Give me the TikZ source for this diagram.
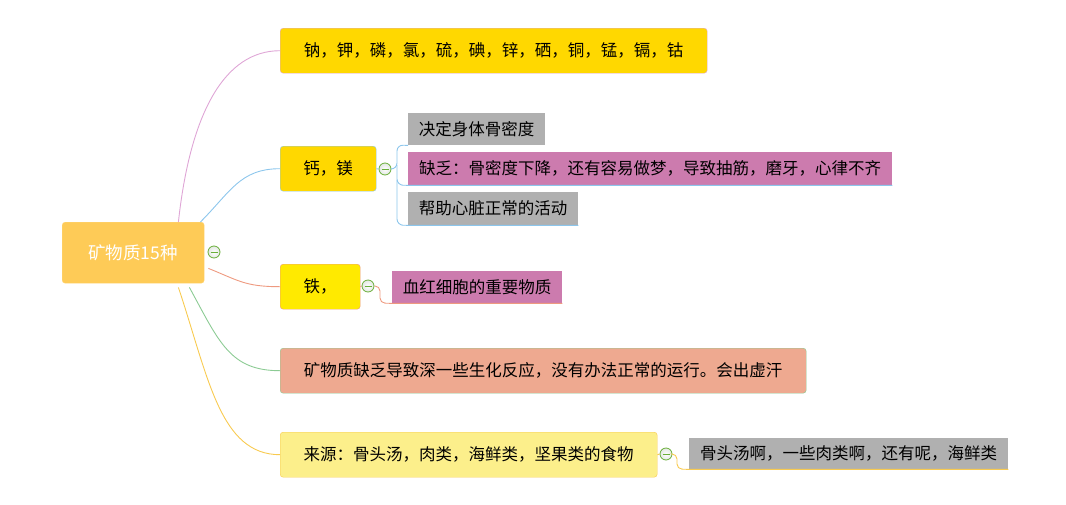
\documentclass[tikz,border=0pt]{standalone}
\usepackage{fontspec}
\newfontfamily\cjk{Noto Sans CJK SC}
\definecolor{rootfill}{HTML}{FECB57}
\definecolor{gold}{HTML}{FFD800}
\definecolor{brightyel}{HTML}{FFEA00}
\definecolor{salmon}{HTML}{EEA990}
\definecolor{lightyel}{HTML}{FCEF8B}
\definecolor{greyc}{HTML}{B0B0B0}
\definecolor{pinkc}{HTML}{CC7BAE}
\definecolor{lpink}{HTML}{DFA6D6}
\definecolor{lblue}{HTML}{8CC6EC}
\definecolor{lred}{HTML}{EE9A80}
\definecolor{lgreen}{HTML}{8CCB94}
\definecolor{lorange}{HTML}{F8CA50}
\definecolor{cgreen}{HTML}{6AAF3A}
\tikzset{
  box/.style={rounded corners=3pt, inner sep=0pt, font=\cjk\fontsize{16.5}{19}\selectfont, text=black},
  child/.style={inner sep=0pt, font=\cjk\fontsize{16.5}{19}\selectfont, text=black},
  conn/.style={line width=0.9pt},
  collapse/.style={circle, draw=cgreen, line width=0.8pt, inner color=white, outer color=green!10!gray!20, minimum size=12pt, inner sep=0pt,
    path picture={\draw[cgreen, line width=1pt] ([xshift=-3.5pt]path picture bounding box.center) -- ([xshift=3.5pt]path picture bounding box.center);}},
}
\begin{document}
\begin{tikzpicture}[x=1pt,y=-1pt]
\useasboundingbox (0,0) rectangle (1066,504);
% root
\node[box, fill=rootfill, draw=rootfill!80!white, minimum width=142pt, minimum height=61pt, anchor=north west, text=white, font=\cjk\fontsize{17.5}{20}\selectfont] (root) at (62,222) {矿物质15种};
\node[collapse] (rc) at (214,252) {};
% branch 1
\node[box, fill=gold, draw=lpink, minimum width=427pt, minimum height=45pt, anchor=north west] (b1) at (280,28) {钠，钾，磷，氯，硫，碘，锌，硒，铜，锰，镉，钴};
% branch 2
\node[box, fill=gold, draw=lblue, minimum width=96pt, minimum height=45pt, anchor=north west] (b2) at (280,146) {钙，镁};
\node[collapse] (c2) at (385,169) {};
\node[child, fill=greyc, minimum width=137pt, minimum height=32pt, anchor=north west] (b21) at (408,113) {决定身体骨密度};
\node[child, fill=pinkc, minimum width=484pt, minimum height=33pt, anchor=north west] (b22) at (408,152) {缺乏：骨密度下降，还有容易做梦，导致抽筋，磨牙，心律不齐};
\node[child, fill=greyc, minimum width=170pt, minimum height=33pt, anchor=north west] (b23) at (408,192) {帮助心脏正常的活动};
% branch 3
\node[box, fill=brightyel, draw=lred, minimum width=80pt, minimum height=45pt, anchor=north west] (b3) at (280,264) {铁，};
\node[collapse] (c3) at (368,286) {};
\node[child, fill=pinkc, minimum width=170pt, minimum height=32pt, anchor=north west] (b31) at (392,271) {血红细胞的重要物质};
% branch 4
\node[box, fill=salmon, draw=lgreen, minimum width=526pt, minimum height=45pt, anchor=north west] (b4) at (280,348) {矿物质缺乏导致深一些生化反应，没有办法正常的运行。会出虚汗};
% branch 5
\node[box, fill=lightyel, draw=lorange, minimum width=377pt, minimum height=45pt, anchor=north west] (b5) at (280,432) {来源：骨头汤，肉类，海鲜类，坚果类的食物};
\node[collapse] (c5) at (666,454) {};
\node[child, fill=greyc, minimum width=319pt, minimum height=31pt, anchor=north west] (b51) at (689,438) {骨头汤啊，一些肉类啊，还有呢，海鲜类};
% root connectors
\draw[conn, lpink] ([xshift=-26pt]root.north east) .. controls +(12,-110) and +(-55,0) .. (b1.west);
\draw[conn, lblue] ([xshift=-4pt]root.north east) .. controls +(30,-30) and +(-40,0) .. (b2.west);
\draw[conn, lred] ([xshift=4pt,yshift=15pt]root.south east) .. controls +(30,12) and +(-35,0) .. (b3.west);
\draw[conn, lgreen] ([xshift=-15pt,yshift=-4pt]root.south east) .. controls +(30,55) and +(-50,0) .. (b4.west);
\draw[conn, lorange] ([xshift=-26pt,yshift=-4pt]root.south east) .. controls +(30,90) and +(-60,0) .. (b5.west);
% branch 2 children connectors
\draw[conn, lblue] (b2.east) -- (c2.west);
\draw[conn, lblue, rounded corners=6pt] (c2.east) -- (397,169) -- (397,145) -- (b21.south west);
\draw[conn, lblue, rounded corners=6pt] (397,165) -- (397,185) -- (b22.south west) -- (b22.south east);
\draw[conn, lblue, rounded corners=6pt] (397,180) -- (397,225) -- (b23.south west) -- (b23.south east);
% branch 3 child connector
\draw[conn, lred] (b3.east) -- (c3.west);
\draw[conn, lred, rounded corners=5pt] (c3.east) -- (380,286) -- (380,303) -- (b31.south west) -- (b31.south east);
% branch 5 child connector
\draw[conn, lorange] (b5.east) -- (c5.west);
\draw[conn, lorange, rounded corners=5pt] (c5.east) -- (677,454) -- (677,469) -- (b51.south west) -- (b51.south east);
\end{tikzpicture}
\end{document}
